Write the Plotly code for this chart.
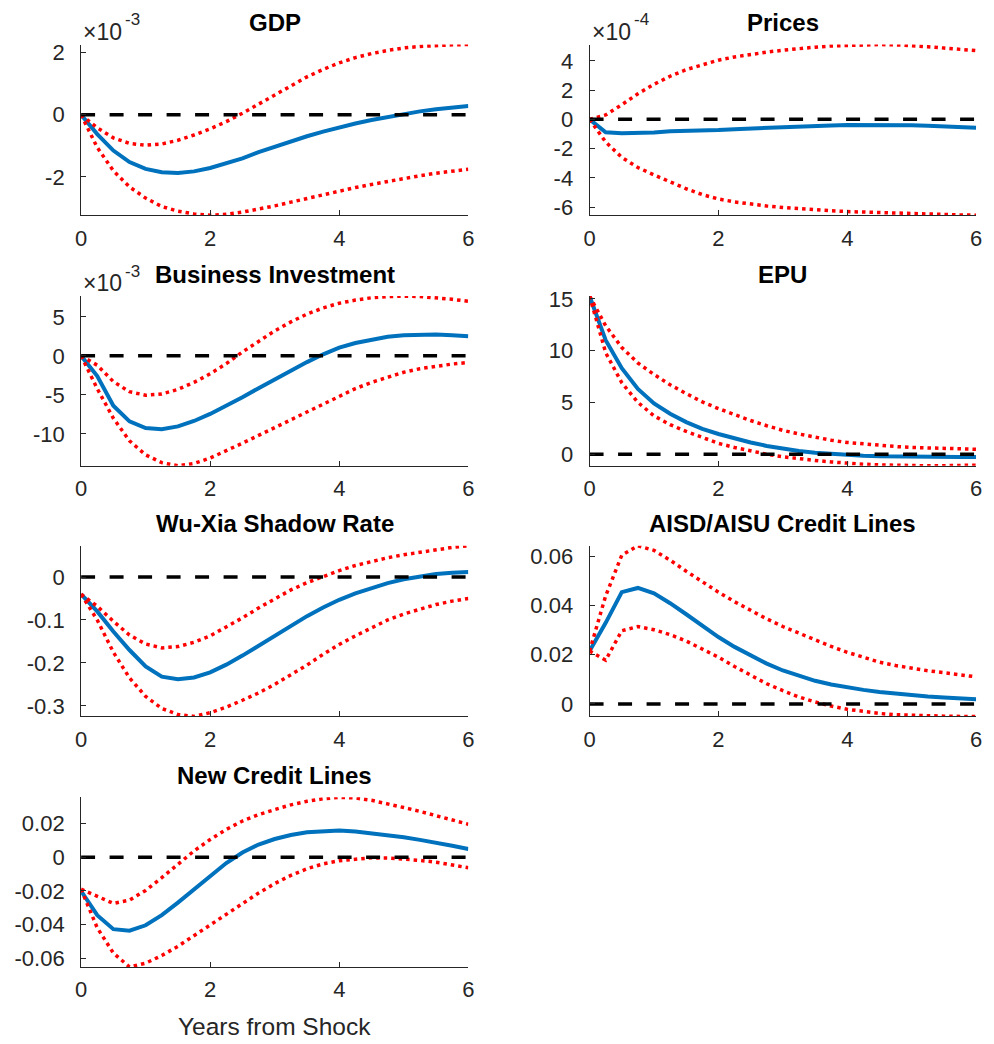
import numpy as np
import plotly.graph_objects as go

# Horizon in years (quarterly steps)
years = [i * 0.25 for i in range(25)]

# GDP (units of 1e-3)
gdp_mid = [0, -0.62, -1.15, -1.52, -1.74, -1.85, -1.87, -1.82, -1.71, -1.57, -1.4, -1.2, -1.02,
           -0.85, -0.69, -0.54, -0.4, -0.28, -0.17, -0.07, 0.03, 0.11, 0.18, 0.24, 0.28]
gdp_hi = [0, -0.42, -0.74, -0.92, -0.98, -0.94, -0.82, -0.65, -0.45, -0.22, 0.05, 0.35, 0.65,
          0.95, 1.22, 1.46, 1.67, 1.84, 1.97, 2.07, 2.15, 2.2, 2.23, 2.25, 2.26]
gdp_lo = [0, -1.05, -1.8, -2.32, -2.68, -2.95, -3.1, -3.19, -3.23, -3.2, -3.13, -3.04, -2.93,
          -2.81, -2.69, -2.57, -2.45, -2.34, -2.24, -2.14, -2.05, -1.96, -1.88, -1.81, -1.75]

# Prices (units of 1e-4)
prices_mid = [0, -0.88, -0.95, -0.95, -0.9, -0.82, -0.8, -0.77, -0.73, -0.67, -0.62, -0.56, -0.51,
              -0.48, -0.44, -0.42, -0.38, -0.37, -0.37, -0.38, -0.4, -0.43, -0.47, -0.52, -0.58]
prices_hi = [0, 0.3, 1.0, 1.75, 2.4, 2.95, 3.4, 3.75, 4.05, 4.27, 4.45, 4.6, 4.73,
             4.85, 4.94, 5.02, 5.07, 5.1, 5.12, 5.1, 5.05, 4.97, 4.88, 4.79, 4.7]
prices_lo = [0, -1.55, -2.6, -3.3, -3.8, -4.3, -4.75, -5.15, -5.45, -5.65, -5.8, -5.93, -6.03,
             -6.12, -6.2, -6.26, -6.31, -6.35, -6.39, -6.42, -6.45, -6.48, -6.51, -6.54, -6.56]

# Business investment (units of 1e-3)
inv_mid = [0, -2.6, -6.4, -8.4, -9.25, -9.4, -9.05, -8.35, -7.45, -6.4, -5.3, -4.15, -3.0,
           -1.85, -0.8, 0.2, 1.05, 1.65, 2.1, 2.45, 2.65, 2.75, 2.75, 2.65, 2.5]
inv_hi = [0, -1.2, -3.3, -4.6, -5.05, -4.9, -4.3, -3.4, -2.3, -1.0, 0.5, 1.9, 3.2,
          4.35, 5.35, 6.15, 6.75, 7.15, 7.45, 7.6, 7.66, 7.6, 7.45, 7.25, 7.0]
inv_lo = [0, -4.2, -8.0, -10.9, -12.7, -13.7, -14.1, -13.8, -13.1, -12.2, -11.2, -10.2, -9.2,
          -8.2, -7.2, -6.1, -5.1, -4.2, -3.4, -2.7, -2.1, -1.65, -1.3, -1.05, -0.85]

# Economic policy uncertainty
epu_mid = [15.26, 11.0, 8.3, 6.3, 4.9, 3.9, 3.1, 2.45, 1.95, 1.5, 1.13, 0.8, 0.52,
           0.3, 0.14, 0.02, -0.07, -0.14, -0.19, -0.22, -0.24, -0.25, -0.26, -0.26, -0.26]
epu_hi = [15.26, 12.4, 10.3, 8.8, 7.7, 6.7, 5.85, 5.05, 4.4, 3.8, 3.25, 2.75, 2.3,
          1.95, 1.62, 1.35, 1.13, 0.98, 0.85, 0.74, 0.65, 0.59, 0.54, 0.5, 0.48]
epu_lo = [15.26, 9.8, 6.9, 5.0, 3.7, 2.85, 2.2, 1.6, 1.05, 0.65, 0.3, 0.0, -0.25,
          -0.45, -0.6, -0.75, -0.88, -0.96, -1.03, -1.08, -1.11, -1.12, -1.11, -1.09, -1.06]

# Wu-Xia shadow rate
wx_mid = [-0.04, -0.08, -0.127, -0.17, -0.208, -0.232, -0.238, -0.234, -0.222, -0.204, -0.183, -0.16, -0.137,
          -0.113, -0.091, -0.071, -0.053, -0.038, -0.025, -0.014, -0.005, 0.002, 0.007, 0.01, 0.012]
wx_hi = [-0.04, -0.068, -0.103, -0.135, -0.156, -0.165, -0.162, -0.152, -0.137, -0.117, -0.095, -0.072, -0.05,
         -0.03, -0.013, 0.002, 0.015, 0.027, 0.037, 0.045, 0.052, 0.058, 0.064, 0.069, 0.073]
wx_lo = [-0.04, -0.1, -0.175, -0.235, -0.278, -0.306, -0.32, -0.3246, -0.316, -0.303, -0.287, -0.27, -0.25,
         -0.228, -0.205, -0.18, -0.157, -0.137, -0.118, -0.1, -0.086, -0.074, -0.064, -0.056, -0.05]

# AISD/AISU credit lines
aisd_mid = [0.0215, 0.033, 0.0455, 0.0472, 0.045, 0.041, 0.0365, 0.0318, 0.0272, 0.0232, 0.0196, 0.0164, 0.0136,
            0.0113, 0.0094, 0.0079, 0.0067, 0.0057, 0.0048, 0.0041, 0.0035, 0.003, 0.0026, 0.0022, 0.0019]
aisd_hi = [0.0215, 0.044, 0.0605, 0.0644, 0.0625, 0.0585, 0.054, 0.0497, 0.0455, 0.0416, 0.038, 0.0346, 0.0315,
           0.0287, 0.026, 0.0234, 0.021, 0.0189, 0.017, 0.0156, 0.0145, 0.0135, 0.0127, 0.0118, 0.011]
aisd_lo = [0.0215, 0.0178, 0.0298, 0.0315, 0.0302, 0.0282, 0.0256, 0.0224, 0.019, 0.0152, 0.0115, 0.0082, 0.0054,
           0.0028, 0.0008, -0.0009, -0.0022, -0.0032, -0.0039, -0.0044, -0.0047, -0.0049, -0.005, -0.0051, -0.0051]

# New credit lines
ncl_mid = [-0.0202, -0.0345, -0.0428, -0.0437, -0.0405, -0.0345, -0.027, -0.019, -0.0108, -0.0035, 0.0028, 0.0075, 0.0108,
           0.0132, 0.0148, 0.0156, 0.0158, 0.0153, 0.0143, 0.0131, 0.0118, 0.0103, 0.0088, 0.0068, 0.0049]
ncl_hi = [-0.019, -0.0235, -0.0275, -0.0255, -0.0198, -0.0122, -0.004, 0.0037, 0.0105, 0.0165, 0.0215, 0.0253, 0.0283,
          0.0311, 0.0332, 0.0347, 0.0356, 0.0352, 0.0338, 0.0318, 0.0295, 0.0272, 0.0248, 0.0222, 0.0196]
ncl_lo = [-0.019, -0.042, -0.057, -0.0653, -0.063, -0.0585, -0.053, -0.0467, -0.0402, -0.0337, -0.0275, -0.0213, -0.0157,
          -0.0108, -0.0069, -0.004, -0.0021, -0.001, -0.0004, -0.0005, -0.001, -0.0019, -0.003, -0.0045, -0.0063]

titles = ["GDP", "Prices", "Business Investment", "EPU", "Wu-Xia Shadow Rate",
          "AISD/AISU Credit Lines", "New Credit Lines"]
exponents = ["-3", "-4", "-3", None, None, None, None]
yticks = [
    [-2, 0, 2],
    [-6, -4, -2, 0, 2, 4],
    [-10, -5, 0, 5],
    [0, 5, 10, 15],
    [-0.3, -0.2, -0.1, 0],
    [0, 0.02, 0.04, 0.06],
    [-0.06, -0.04, -0.02, 0, 0.02],
]
xticks = [0, 2, 4, 6]
series = [
    (gdp_mid, gdp_hi, gdp_lo),
    (prices_mid, prices_hi, prices_lo),
    (inv_mid, inv_hi, inv_lo),
    (epu_mid, epu_hi, epu_lo),
    (wx_mid, wx_hi, wx_lo),
    (aisd_mid, aisd_hi, aisd_lo),
    (ncl_mid, ncl_hi, ncl_lo),
]

W, H = 994, 1044
col_px = [(76, 468), (590.7, 982)]
row_px = [(35, 208), (290, 462), (543, 716), (798, 970)]

AX_COLOR = "#262626"
FONT = "Liberation Sans, Arial, Helvetica, sans-serif"
TICK_SIZE = 22
TITLE_SIZE = 24
LABEL_SIZE = 24.5

fig = go.Figure()
layout = dict(
    width=W, height=H, margin=dict(l=0, r=0, t=0, b=0),
    paper_bgcolor="white", plot_bgcolor="white", showlegend=False,
    font=dict(family=FONT, color=AX_COLOR, size=TICK_SIZE),
)
annotations = []

def fmt(v):
    return f"{v:g}"

for k, (mid, hi, lo) in enumerate(series):
    r, c = divmod(k, 2)
    xl, xr = col_px[c]
    yt, yb = row_px[r]
    xd = [xl / W, xr / W]
    yd = [1 - yb / H, 1 - yt / H]
    sfx = "" if k == 0 else str(k + 1)
    xa, ya = "x" + sfx, "y" + sfx

    allv = np.concatenate([mid, hi, lo, [0.0]])
    yrange = [float(allv.min()), float(allv.max())]

    layout["xaxis" + sfx] = dict(
        domain=xd, anchor=ya, range=[0, 6], tickvals=xticks,
        ticktext=[fmt(v) for v in xticks], ticks="inside", ticklen=5,
        tickcolor=AX_COLOR, showline=True, linecolor=AX_COLOR, linewidth=1,
        showgrid=False, zeroline=False, ticklabelstandoff=3,
        tickfont=dict(size=TICK_SIZE, color=AX_COLOR, family=FONT),
    )
    layout["yaxis" + sfx] = dict(
        domain=yd, anchor=xa, range=yrange, tickvals=yticks[k],
        ticktext=[fmt(v) for v in yticks[k]], ticks="inside", ticklen=5,
        tickcolor=AX_COLOR, showline=True, linecolor=AX_COLOR, linewidth=1,
        showgrid=False, zeroline=False, ticklabelstandoff=11,
        tickfont=dict(size=TICK_SIZE, color=AX_COLOR, family=FONT),
    )

    fig.add_trace(go.Scatter(x=years, y=mid, mode="lines", xaxis=xa, yaxis=ya,
                             line=dict(color="#0072BD", width=4)))
    for band in (lo, hi):
        fig.add_trace(go.Scatter(x=years, y=band, mode="lines", xaxis=xa, yaxis=ya,
                                 line=dict(color="#FF0000", width=3.5, dash="3.5px,4px")))
    fig.add_trace(go.Scatter(x=[years[0], years[-1]], y=[0, 0], mode="lines",
                             xaxis=xa, yaxis=ya,
                             line=dict(color="black", width=3.5, dash="14px,14.5px")))

    annotations.append(dict(
        text="<b>" + titles[k] + "</b>", xref="paper", yref="paper",
        x=(xd[0] + xd[1]) / 2, y=yd[1], xanchor="center", yanchor="middle",
        yshift=22, showarrow=False,
        font=dict(size=TITLE_SIZE, color="black", family=FONT),
    ))
    if exponents[k]:
        # axis multiplier: base and superscript drawn as separate texts
        annotations.append(dict(
            text="×10", xref="paper", yref="paper",
            x=xd[0], y=yd[1], xanchor="left", yanchor="middle", xshift=0, yshift=13,
            showarrow=False, font=dict(size=23, color=AX_COLOR, family=FONT),
        ))
        annotations.append(dict(
            text=exponents[k], xref="paper", yref="paper",
            x=xd[0], y=yd[1], xanchor="left", yanchor="middle", xshift=42, yshift=25,
            showarrow=False, font=dict(size=17, color=AX_COLOR, family=FONT),
        ))

# x-axis label under the bottom panel
xl, xr = col_px[0]
annotations.append(dict(
    text="Years from Shock", xref="paper", yref="paper",
    x=(xl + xr) / 2 / W, y=1 - row_px[3][1] / H, xanchor="center", yanchor="middle",
    yshift=-60, showarrow=False, font=dict(size=LABEL_SIZE, color=AX_COLOR, family=FONT),
))

layout["annotations"] = annotations
fig.update_layout(**layout)
fig.write_html("out.html")
